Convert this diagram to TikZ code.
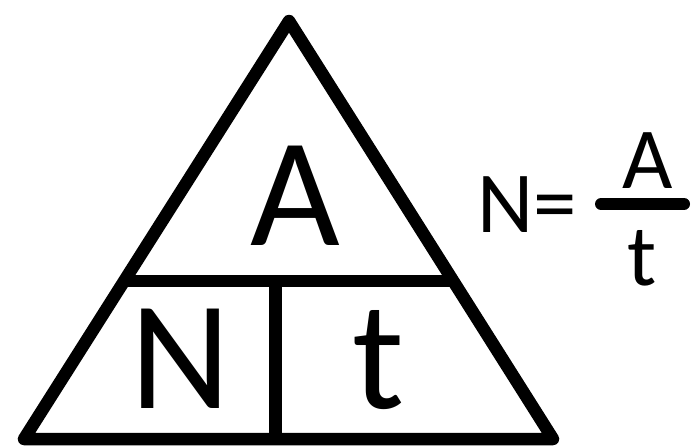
\documentclass[tikz,border=0pt]{standalone}
\usepackage{fontspec}
\setmainfont{Carlito}
\begin{document}
\begin{tikzpicture}[x=1pt,y=-1pt,
  thick line/.style={line width=12.5pt,line join=round},
  big/.style={inner sep=0pt,anchor=base,text depth=0pt,font=\fontsize{155}{155}\selectfont},
  small/.style={inner sep=0pt,anchor=base,text depth=0pt,font=\fontsize{87}{87}\selectfont}]
\useasboundingbox (0,0) rectangle (692,445);
\fill[white] (0,0) rectangle (692,445);
\coordinate (apex) at (289,21);
\coordinate (bl) at (24,439);
\coordinate (br) at (553,439);
\coordinate (hl) at (124.3,281);
\coordinate (hr) at (453.2,281);
\coordinate (vt) at (275,281);
\coordinate (vb) at (275,439);
\draw[thick line] (bl) -- (apex) -- (br) -- cycle;
\draw[line width=12.5pt] (hl) -- (hr);
\draw[line width=13pt] (vt) -- (vb);
\node[big] (A) at (295,245) {A};
\node[big] (N) at (181,408) {N};
\node[big] (t) at (378,408) {t};
\node[small] (Neq) at (527,232) {N=};
\node[small] (fA) at (648,188) {A};
\node[small] (ft) at (642,285) {t};
\coordinate (barl) at (601,204);
\coordinate (barr) at (684,204);
\draw[line width=12pt,line cap=round] (barl) -- (barr);
\end{tikzpicture}
\end{document}
